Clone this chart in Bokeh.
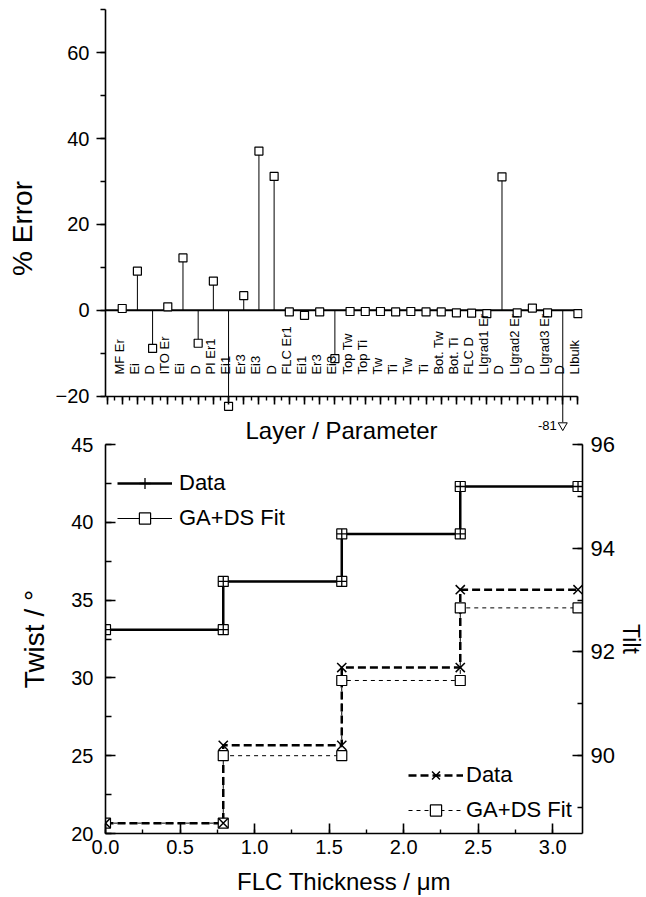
import math
from bokeh.plotting import figure
from bokeh.layouts import column
from bokeh.models import (Range1d, LinearAxis, SingleIntervalTicker, Legend, LegendItem,
                          PrintfTickFormatter)
from bokeh.core.properties import value
from bokeh.embed import file_html
from bokeh.resources import INLINE

FONT = "Liberation Sans"

# ---------------- top panel data ----------------
layer_params = ["MF Er", "Ei", "D", "ITO Er", "Ei", "D", "PI Er1", "Ei1", "Er3", "Ei3", "D",
                "FLC Er1", "Ei1", "Er3", "Ei3", "Top Tw", "Top Ti", "Tw", "Ti", "Tw", "Ti",
                "Bot. Tw", "Bot. Ti", "FLC D", "LIgrad1 Er", "D", "LIgrad2 Er", "D",
                "LIgrad3 Er", "D", "LIbulk"]
error_pct = [0.4, 9.1, -8.9, 0.8, 12.2, -7.7, 6.8, -22.4, 3.4, 37.1, 31.2,
             -0.4, -1.2, -0.4, -11.3, -0.3, -0.3, -0.3, -0.4, -0.3, -0.4,
             -0.4, -0.6, -0.7, -0.8, 31.1, -0.6, 0.5, -0.6, -81.0, -0.8]

# ---------------- bottom panel data ----------------
flc_thickness = [0.0, 0.79, 1.585, 2.38, 3.17]   # layer edges (um)
twist_data = [33.1, 36.2, 39.25, 42.3]
twist_fit = [33.1, 36.2, 39.25, 42.3]
tilt_data = [88.7, 90.2, 91.7, 93.2]
tilt_fit = [88.7, 90.0, 91.45, 92.85]


def step_points(edges, levels):
    xs, ys = [], []
    for i, lv in enumerate(levels):
        xs.extend([edges[i], edges[i + 1]])
        ys.extend([lv, lv])
    return xs, ys


def style_axis(ax, label_size, tick_size):
    ax.axis_line_color = "black"
    ax.axis_line_width = 1.6
    ax.major_tick_line_color = "black"
    ax.minor_tick_line_color = "black"
    ax.major_tick_line_width = 1.6
    ax.minor_tick_line_width = 1.4
    ax.major_label_text_font = FONT
    ax.major_label_text_font_size = tick_size
    ax.major_label_text_color = "black"
    ax.axis_label_text_font = FONT
    ax.axis_label_text_font_size = label_size
    ax.axis_label_text_font_style = "normal"
    ax.axis_label_text_color = "black"


# ================= top panel =================
n = len(layer_params)
pos = list(range(1, n + 1))
floor = -26.1  # display floor for off-scale values
x_lo, x_hi = -0.1, n + 0.3

p1 = figure(width=646, height=450, x_range=Range1d(x_lo, x_hi), y_range=Range1d(-32.7, 70.8),
            x_axis_location=None, y_axis_location=None, toolbar_location=None,
            output_backend="svg", min_border_left=105, min_border_right=64,
            min_border_top=6, min_border_bottom=0)
p1.outline_line_color = None
p1.grid.visible = False

yax = LinearAxis(ticker=SingleIntervalTicker(interval=20, num_minor_ticks=2),
                 bounds=(-20, 70), axis_label="% Error")
style_axis(yax, "28px", "20px")
yax.major_tick_in = 0
yax.major_tick_out = 9
yax.minor_tick_in = 0
yax.minor_tick_out = 5
yax.major_label_standoff = 7
yax.axis_label_standoff = 15
p1.add_layout(yax, "left")

xax = LinearAxis(fixed_location=-20, bounds=(x_lo, n),
                 ticker=SingleIntervalTicker(interval=1, num_minor_ticks=2),
                 axis_label="Layer / Parameter")
style_axis(xax, "24px", "1px")
xax.major_label_text_alpha = 0
xax.major_label_standoff = 0
xax.major_tick_in = 0
xax.major_tick_out = 8
xax.minor_tick_in = 0
xax.minor_tick_out = 4
xax.axis_label_standoff = 12
p1.add_layout(xax, "below")

p1.segment(x0=[x_lo], y0=[0], x1=[n], y1=[0], line_color="black", line_width=2)
stem_end = [max(e, floor) for e in error_pct]
p1.segment(x0=pos, y0=[0] * n, x1=pos, y1=stem_end, line_color="black", line_width=1)
shown = [i for i, e in enumerate(error_pct) if e >= floor]
p1.scatter([pos[i] for i in shown], [error_pct[i] for i in shown], marker="square", size=8,
           line_color="black", line_width=1.2, fill_color="white")
over = [i for i, e in enumerate(error_pct) if e < floor]
p1.scatter([pos[i] for i in over], [floor - 0.75] * len(over), marker="inverted_triangle",
           size=9, line_color="black", line_width=1, fill_color="white")
p1.text([pos[i] for i in over], [floor - 0.85] * len(over),
        text=[f"{error_pct[i]:.0f}" for i in over], text_align="right", text_baseline="middle",
        x_offset=-6, text_font=value(FONT), text_font_size="13px", text_color="black")
p1.text(pos, [-15.0] * n, text=layer_params, angle=math.pi / 2, text_align="left",
        text_baseline="middle", x_offset=-3, text_font=value(FONT), text_font_size="13px",
        text_color="black")

# ================= bottom panel =================
p2 = figure(width=646, height=471, x_range=Range1d(0, 3.2), y_range=Range1d(20, 45),
            x_axis_location=None, y_axis_location=None, toolbar_location=None,
            output_backend="svg", min_border_left=105, min_border_right=64,
            min_border_top=18, min_border_bottom=64)
p2.margin = (-24, 0, 0, 0)
p2.extra_y_ranges = {"tilt": Range1d(88.5, 96)}
p2.background_fill_color = None
p2.border_fill_color = None
p2.outline_line_color = None
p2.grid.visible = False

lax = LinearAxis(ticker=SingleIntervalTicker(interval=5, num_minor_ticks=2), axis_label="Twist / °")
style_axis(lax, "28px", "20px")
lax.major_tick_in = 10
lax.major_tick_out = 0
lax.minor_tick_in = 6
lax.minor_tick_out = 0
lax.major_label_standoff = 12
lax.axis_label_standoff = 18
p2.add_layout(lax, "left")

rax = LinearAxis(y_range_name="tilt", ticker=SingleIntervalTicker(interval=2, num_minor_ticks=2),
                 axis_label="Tilt")
style_axis(rax, "23px", "22px")
rax.major_tick_in = 10
rax.major_tick_out = 0
rax.minor_tick_in = 5
rax.minor_tick_out = 0
rax.major_label_standoff = 8
rax.axis_label_standoff = 0
p2.add_layout(rax, "right")

bax = LinearAxis(ticker=SingleIntervalTicker(interval=0.5, num_minor_ticks=2),
                 axis_label="FLC Thickness / μm")
style_axis(bax, "24px", "20px")
bax.formatter = PrintfTickFormatter(format="%.1f")
bax.major_tick_in = 10
bax.major_tick_out = 0
bax.minor_tick_in = 4
bax.minor_tick_out = 0
bax.major_label_standoff = 6
bax.axis_label_standoff = 11
p2.add_layout(bax, "below")

tdx, tdy = step_points(flc_thickness, twist_data)
tfx, tfy = step_points(flc_thickness, twist_fit)
ldx, ldy = step_points(flc_thickness, tilt_data)
lfx, lfy = step_points(flc_thickness, tilt_fit)

r_tf_line = p2.line(tfx, tfy, line_color="black", line_width=1)
r_td_line = p2.line(tdx, tdy, line_color="black", line_width=2.5)
r_tf_mark = p2.scatter(tfx, tfy, marker="square", size=10, line_color="black", line_width=1.2,
                       fill_color="white")
r_td_mark = p2.scatter(tdx, tdy, marker="cross", size=10, line_color="black", line_width=1.3)

r_lf_line = p2.line(lfx, lfy, y_range_name="tilt", line_color="black", line_width=1,
                    line_dash="4 4")
r_ld_line = p2.line(ldx, ldy, y_range_name="tilt", line_color="black", line_width=2.5,
                    line_dash="8 4")
r_lf_mark = p2.scatter(lfx, lfy, y_range_name="tilt", marker="square", size=10,
                       line_color="black", line_width=1.2, fill_color="white")
r_ld_mark = p2.scatter(ldx, ldy, y_range_name="tilt", marker="x", size=13,
                       line_color="black", line_width=1.5)

leg1 = Legend(items=[LegendItem(label="Data", renderers=[r_td_line, r_td_mark]),
                     LegendItem(label="GA+DS Fit", renderers=[r_tf_line, r_tf_mark])],
              location=(12, 301))
leg2 = Legend(items=[LegendItem(label="Data", renderers=[r_ld_line, r_ld_mark]),
                     LegendItem(label="GA+DS Fit", renderers=[r_lf_line, r_lf_mark])],
              location=(303, 9))
for lg, so in ((leg1, 7), (leg2, 3)):
    lg.border_line_color = None
    lg.background_fill_alpha = 0
    lg.padding = 0
    lg.margin = 0
    lg.spacing = 7
    lg.glyph_width = 55
    lg.glyph_height = 28
    lg.label_standoff = so
    lg.label_text_font = FONT
    lg.label_text_font_size = "22px"
    lg.label_text_color = "black"
    p2.add_layout(lg)

layout = column(p1, p2)
open("out.html", "w").write(file_html(layout, INLINE))
